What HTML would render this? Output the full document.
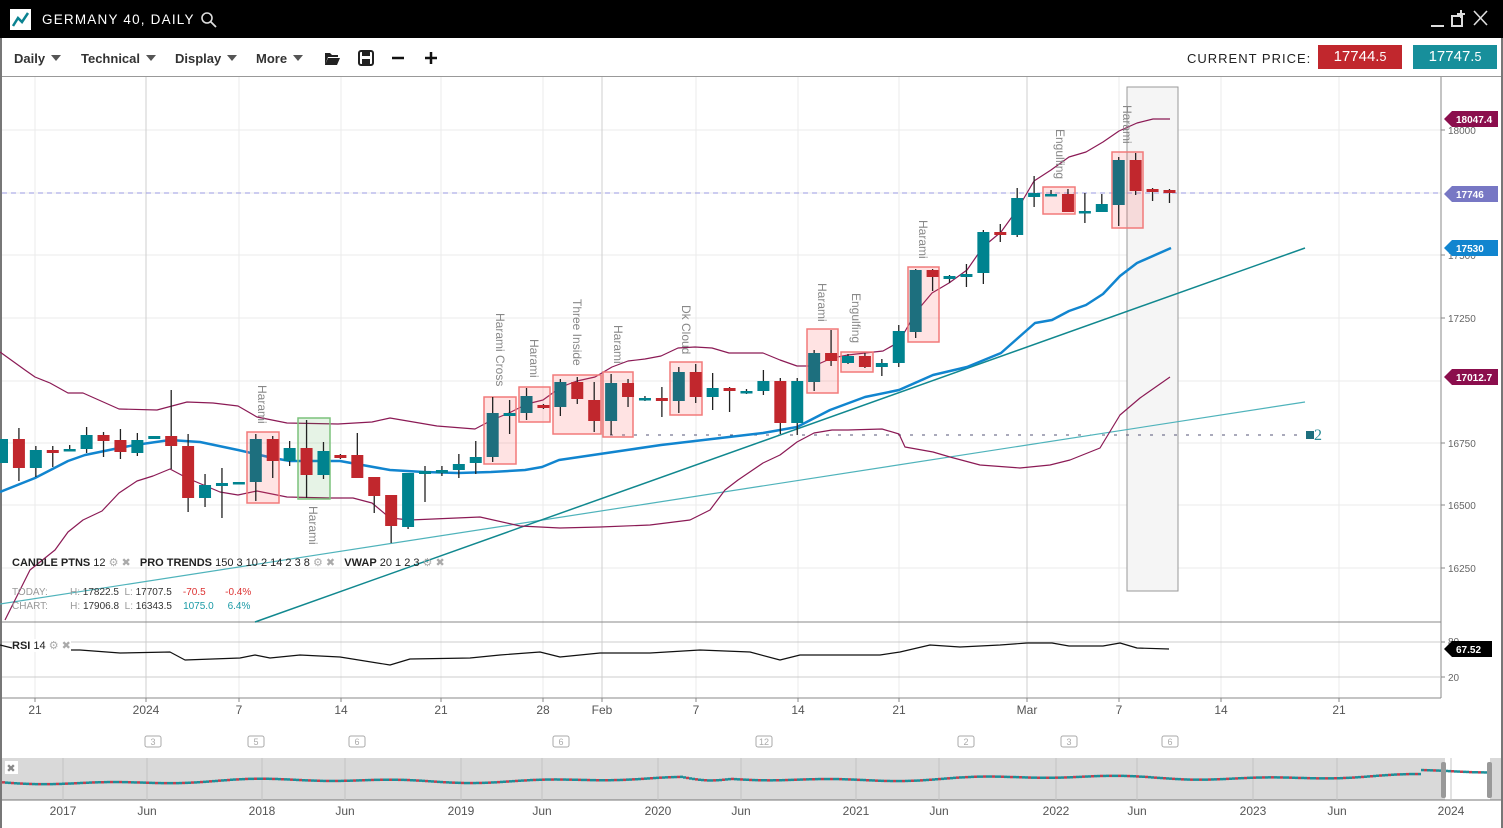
<!DOCTYPE html>
<html><head><meta charset="utf-8">
<style>
html,body{margin:0;padding:0;background:#fff;width:1503px;height:828px;overflow:hidden;font-family:"Liberation Sans",sans-serif}
#wrap{position:relative;width:1503px;height:828px}
.tb{position:absolute;left:0;top:0;width:1503px;height:38px;background:#000}
.tool{position:absolute;top:38px;left:0;width:1503px;height:38px;background:#fff;border-bottom:1px solid #999}
.menu{position:absolute;top:51px;font-size:13px;font-weight:bold;color:#333}
.menu:after{content:"";display:inline-block;margin-left:6px;border-left:5px solid transparent;border-right:5px solid transparent;border-top:6px solid #555;vertical-align:2px}
</style></head><body><div id="wrap">
<div class="tb">
  <div style="position:absolute;left:10px;top:9px;width:21px;height:21px;background:#fff"></div>
  <svg style="position:absolute;left:10px;top:9px" width="21" height="21"><polyline points="3,17 8,9 12,13 18,4" fill="none" stroke="#0a8291" stroke-width="2.5"/></svg>
  <div style="position:absolute;left:42px;top:12px;color:#fff;font-size:13.5px;letter-spacing:1.2px">GERMANY 40, DAILY</div>
  <svg style="position:absolute;left:200px;top:11px" width="18" height="18"><circle cx="7" cy="7" r="5" fill="none" stroke="#ddd" stroke-width="1.6"/><line x1="11" y1="11" x2="16" y2="16" stroke="#ddd" stroke-width="1.8"/></svg>
  <svg style="position:absolute;left:1428px;top:8px" width="70" height="22"><line x1="3" y1="18" x2="16" y2="18" stroke="#ddd" stroke-width="2"/><rect x="24" y="8" width="10" height="10" fill="none" stroke="#ddd" stroke-width="2"/><path d="M33 2v8M29 6h8" stroke="#ddd" stroke-width="2"/><path d="M46 3l13 14M59 3L46 17" stroke="#ddd" stroke-width="1.6"/></svg>
</div>
<div class="tool">
  <span class="menu" style="left:14px;top:13px">Daily</span>
  <span class="menu" style="left:81px;top:13px">Technical</span>
  <span class="menu" style="left:175px;top:13px">Display</span>
  <span class="menu" style="left:256px;top:13px">More</span>
  <svg style="position:absolute;left:323px;top:11px" width="120" height="18"><path d="M2 4h5l2 2h6v2H5l-3 8z M5 9h12l-3 7H2z" fill="#222"/><rect x="36" y="2" width="14" height="14" rx="2" fill="none" stroke="#222" stroke-width="2"/><rect x="39" y="3" width="8" height="4" fill="#222"/><rect x="39" y="10" width="8" height="5" fill="#222"/><line x1="69" y1="9" x2="81" y2="9" stroke="#111" stroke-width="2.5"/><path d="M102 9h12M108 3v12" stroke="#111" stroke-width="2.5"/></svg>
  <div style="position:absolute;left:1187px;top:13px;font-size:13px;letter-spacing:1px;color:#222">CURRENT PRICE:</div>
  <div style="position:absolute;left:1318px;top:7px;width:84px;height:24px;background:#c1272d;color:#fff;font-size:15px;line-height:24px;text-align:center">17744.<small>5</small></div>
  <div style="position:absolute;left:1413px;top:7px;width:84px;height:24px;background:#178f9b;color:#fff;font-size:15px;line-height:24px;text-align:center">17747.<small>5</small></div>
</div>
<svg id="ch" style="position:absolute;left:0;top:0" width="1503" height="828"></svg>
<div style="position:absolute;left:12px;top:556px;font-size:11px;color:#222"><b>CANDLE PTNS</b> 12 <span style="color:#aaa">⚙ ✖</span>&nbsp;&nbsp; <b>PRO TRENDS</b> 150 3 10 2 14 2 3 8 <span style="color:#aaa">⚙ ✖</span>&nbsp;&nbsp; <b>VWAP</b> 20 1 2 3 <span style="color:#aaa">⚙ ✖</span></div>
<div style="position:absolute;left:12px;top:586px;font-size:10px;color:#999;line-height:14px">TODAY:&nbsp;&nbsp;&nbsp;&nbsp;&nbsp;&nbsp;&nbsp; H: <span style="color:#333">17822.5</span>&nbsp; L: <span style="color:#333">17707.5</span>&nbsp;&nbsp;&nbsp; <span style="color:#d33">-70.5</span>&nbsp;&nbsp;&nbsp;&nbsp;&nbsp;&nbsp; <span style="color:#d33">-0.4%</span><br>CHART:&nbsp;&nbsp;&nbsp;&nbsp;&nbsp;&nbsp;&nbsp; H: <span style="color:#333">17906.8</span>&nbsp; L: <span style="color:#333">16343.5</span>&nbsp;&nbsp;&nbsp; <span style="color:#1a9aa6">1075.0</span>&nbsp;&nbsp;&nbsp;&nbsp; <span style="color:#1a9aa6">6.4%</span></div>
<div style="position:absolute;left:12px;top:639px;font-size:11px;color:#222;background:#fff"><b>RSI</b> 14 <span style="color:#aaa">⚙ ✖</span></div>
</div>
<script>
var s='';
function L(x1,y1,x2,y2,c,w,d){s+='<line x1="'+x1+'" y1="'+y1+'" x2="'+x2+'" y2="'+y2+'" stroke="'+c+'" stroke-width="'+(w||1)+'"'+(d?' stroke-dasharray="'+d+'"':'')+'/>';}
function P(pts,c,w){s+='<polyline points="'+pts.map(p=>p.join(',')).join(' ')+'" fill="none" stroke="'+c+'" stroke-width="'+w+'" stroke-linejoin="round"/>';}
function T(x,y,t,o){s+='<text x="'+x+'" y="'+y+'" '+(o||'')+'>'+t+'</text>';}
L(1,38,1,828,'#777',2);L(1502,38,1502,828,'#777',2);
[130,193,255,318,381,443,505,568].forEach(y=>L(2,y,1441,y,'#ebebeb'));
[35,239,341,441,543,696,798,899,1119,1221,1339].forEach(x=>{L(x,77,x,698,'#ebebeb');});
[146,602,1027].forEach(x=>L(x,77,x,698,'#cfcfcf'));
s+='<rect x="1127" y="87" width="51" height="504" fill="#f5f5f5" stroke="#999"/>';
L(2,622,1441,622,'#888');L(2,698,1441,698,'#888');L(1441,77,1441,698,'#888');
L(2,642,1441,642,'#ccc');L(2,677,1441,677,'#ccc');
[[18000,130],[17500,255],[17250,318],[16750,443],[16500,505],[16250,568]].forEach(a=>{L(1441,a[1],1445,a[1],'#888');T(1448,a[1]+4,a[0],'font-size="10" fill="#666"');});
L(1441,642,1445,642,'#888');T(1448,645,'80','font-size="10" fill="#666"');
L(1441,677,1445,677,'#888');T(1448,681,'20','font-size="10" fill="#666"');
L(2,193,1441,193,'#9a9ae0',1,'5,4');
L(610,435,1300,435,'#557','1','3,9');
s+='<rect x="1306" y="431" width="8" height="8" fill="#1d6f7e"/>';T(1314,440,'2','font-size="16" fill="#2a8c97" font-family="Liberation Serif"');
L(0,604,1305,402,'#4fb3bb',1.2);
L(255,622,1305,248,'#11888f',1.5);
P([[0,352],[25,370],[35,377],[50,383],[68,393],[83,393],[119,409],[157,410],[187,402],[213,403],[238,406],[257,417],[287,423],[338,424],[372,422],[390,418],[437,426],[475,429],[492,420],[509,413],[527,404],[543,400],[561,387],[577,381],[595,377],[612,367],[628,361],[645,359],[661,356],[678,348],[695,347],[712,348],[729,353],[763,353],[780,360],[797,366],[814,366],[832,358],[848,355],[865,353],[883,351],[899,342],[916,312],[932,293],[949,283],[967,270],[983,247],[1001,232],[1017,210],[1034,181],[1051,170],[1069,157],[1086,152],[1103,142],[1119,131],[1137,123],[1153,119],[1170,119]],'#8b1a55',1.2);
P([[5,620],[30,570],[55,550],[68,532],[83,520],[102,511],[119,493],[137,481],[153,476],[170,469],[187,478],[220,492],[238,495],[257,491],[287,497],[330,498],[353,498],[372,503],[390,518],[410,520],[480,517],[520,526],[560,528],[600,527],[650,525],[690,520],[710,510],[725,490],[738,480],[763,463],[780,455],[797,442],[814,433],[832,430],[848,430],[882,429],[899,434],[905,447],[933,452],[950,457],[980,465],[1020,468],[1050,465],[1070,460],[1100,448],[1120,415],[1140,398],[1170,377]],'#8b1a55',1.2);
P([[0,492],[35,478],[68,461],[85,455],[119,448],[135,445],[170,440],[200,442],[238,450],[273,458],[290,461],[340,461],[390,470],[424,472],[458,473],[491,472],[525,470],[542,467],[559,460],[593,455],[627,450],[661,445],[695,441],[729,437],[763,433],[797,427],[830,410],[865,397],[899,390],[933,375],[967,367],[1001,353],[1035,323],[1052,320],[1069,311],[1086,305],[1103,294],[1120,276],[1137,263],[1171,248]],'#1185cf',2.5);
[[247,432,32,71],[484,397,32,67],[519,387,31,35],[553,375,48,59],[603,372,30,65],[670,362,32,53],[807,329,31,64],[841,352,32,20],[908,267,31,75],[1043,187,32,27],[1112,152,31,76]].forEach(b=>{s+='<rect x="'+b[0]+'" y="'+b[1]+'" width="'+b[2]+'" height="'+b[3]+'" fill="rgba(255,90,90,0.17)" stroke="#f27a7a" stroke-width="1.5"/>';});
s+='<rect x="298" y="418" width="32" height="81" fill="rgba(60,160,60,0.13)" stroke="#7cc27c" stroke-width="1.5"/>';
var C=[[463,439,439,463,1],[439,468,428,481,0],[468,450,446,477,1],[450,453,446,467,0],[451,449,445,451,1],[449,435,427,453,1],[435,441,432,457,0],[440,452,429,459,0],[453,440,433,456,1],[439,436,436,439,1],[436,446,390,469,0],[446,498,434,512,0],[498,485,474,507,1],[486,483,468,518,1],[484,482,482,484,1],[482,439,434,501,1],[439,461,436,478,0],[461,448,441,466,1],[448,475,420,498,0],[475,451,442,479,1],[455,458,454,459,0],[455,478,433,478,0],[477,496,477,513,0],[495,526,495,543,0],[527,473,473,529,1],[474,471,466,502,1],[473,470,466,476,1],[470,464,454,478,1],[463,457,441,474,1],[457,413,397,462,1],[416,413,400,434,1],[413,396,388,420,1],[405,408,404,409,0],[407,382,379,416,1],[382,399,377,404,0],[400,421,382,432,0],[421,383,374,435,1],[383,397,379,407,0],[400,398,396,401,1],[398,401,387,417,0],[401,372,367,413,1],[372,397,364,403,0],[397,388,373,410,1],[388,391,387,412,0],[393,391,389,394,1],[391,381,370,395,1],[381,423,378,434,0],[423,381,378,435,1],[382,353,350,391,1],[353,361,330,366,0],[363,356,354,364,1],[356,367,353,368,0],[367,363,359,376,1],[363,331,325,367,1],[332,270,269,338,1],[270,277,269,291,0],[279,276,275,283,1],[277,274,264,287,1],[273,232,230,284,1],[232,235,224,242,0],[235,198,188,237,1],[197,193,176,207,1],[196,194,190,196,1],[194,212,189,212,0],[213,211,193,223,1],[212,204,194,212,1],[205,160,157,226,1],[160,191,153,195,0],[189,192,188,201,0],[190,193,189,203,0]];
var boxed={15:1,29:1,31:1,33:1,36:1,40:1,48:1,54:1,66:1};
C.forEach((c,i)=>{var x=2+16.92*i;var col=c[4]?(boxed[i]?'#1d6f7e':'#00838f'):'#c1272d';
L(x,c[2],x,c[3],'#222',1.3);var t=Math.min(c[0],c[1]),h=Math.max(Math.abs(c[0]-c[1]),2.5);
s+='<rect x="'+(x-6)+'" y="'+t+'" width="12" height="'+h+'" fill="'+col+'"/>';});
[[258,385,'Harami'],[309,506,'Harami'],[496,313,'Harami Cross'],[530,339,'Harami'],[573,299,'Three Inside'],[614,325,'Harami'],[682,305,'Dk Cloud'],[818,283,'Harami'],[852,293,'Engulfing'],[919,220,'Harami'],[1056,129,'Engulfing'],[1123,105,'Harami']].forEach(a=>{s+='<text transform="translate('+a[0]+','+a[1]+') rotate(90)" font-size="12" fill="#888">'+a[2]+'</text>';});
function tag(y,txt,col,w){s+='<path d="M1444 '+y+'l8 -8h'+w+'v16h-'+w+'z" fill="'+col+'"/>';T(1456,y+4,txt,'font-size="10" font-weight="bold" fill="#fff"');}
tag(119,'18047.4','#8b0e4d',46);tag(194,'17746','#7777c4',46);tag(248,'17530','#1185cf',46);tag(377,'17012.7','#8b0e4d',46);tag(649,'67.52','#000',40);
P([[0,645],[20,650],[80,650],[120,653],[170,652],[185,660],[240,658],[255,655],[270,658],[300,655],[340,657],[390,665],[410,659],[470,658],[500,655],[540,652],[560,657],[600,653],[650,653],[700,650],[750,652],[780,660],[800,655],[850,655],[880,655],[900,652],[930,645],[960,647],[1000,645],[1027,643],[1052,643],[1069,646],[1103,646],[1120,643],[1137,648],[1169,649]],'#111',1.2);
[[35,'21'],[146,'2024'],[239,'7'],[341,'14'],[441,'21'],[543,'28'],[602,'Feb'],[696,'7'],[798,'14'],[899,'21'],[1027,'Mar'],[1119,'7'],[1221,'14'],[1339,'21']].forEach(a=>{L(a[0],698,a[0],702,'#888');T(a[0],714,a[1],'font-size="12" fill="#555" text-anchor="middle"');});
[[153,3],[256,5],[357,6],[561,6],[764,12],[966,2],[1069,3],[1170,6]].forEach(a=>{s+='<rect x="'+(a[0]-8)+'" y="736" width="16" height="11" rx="2" fill="none" stroke="#aaa"/>';T(a[0],745,a[1],'font-size="9" fill="#aaa" text-anchor="middle"');});
s+='<rect x="2" y="758" width="1499" height="42" fill="#d9d9d9"/><rect x="1445" y="758" width="45" height="42" fill="#fff"/>';
L(2,800,1501,800,'#777');
[[63,'2017'],[147,'Jun'],[262,'2018'],[345,'Jun'],[461,'2019'],[542,'Jun'],[658,'2020'],[741,'Jun'],[856,'2021'],[939,'Jun'],[1056,'2022'],[1137,'Jun'],[1253,'2023'],[1337,'Jun'],[1451,'2024']].forEach(a=>{L(a[0],758,a[0],800,'#c4c4c4');T(a[0],815,a[1],'font-size="12" fill="#555" text-anchor="middle"');});
for(var x=2;x<1490;x+=3){var y=782+1.2*Math.sin(x/23)+1.5*Math.sin(x/61)-0.004*x;if(x>680&&x<730)y+=3*Math.sin((x-680)/50*Math.PI);if(x>1420)y-=4;
s+='<rect x="'+x+'" y="'+(y-1).toFixed(1)+'" width="3" height="2.5" fill="'+((Math.floor(x/3)%3)?'#1e8e98':'#c04050')+'"/>';}
s+='<rect x="1441" y="762" width="5" height="36" rx="2" fill="#999"/><rect x="1487" y="762" width="5" height="36" rx="2" fill="#999"/>';
s+='<rect x="5" y="761" width="13" height="13" fill="#fff"/>';T(11,772,'✖','font-size="11" fill="#888" text-anchor="middle"');
document.getElementById('ch').innerHTML=s;
</script>
</body></html>
